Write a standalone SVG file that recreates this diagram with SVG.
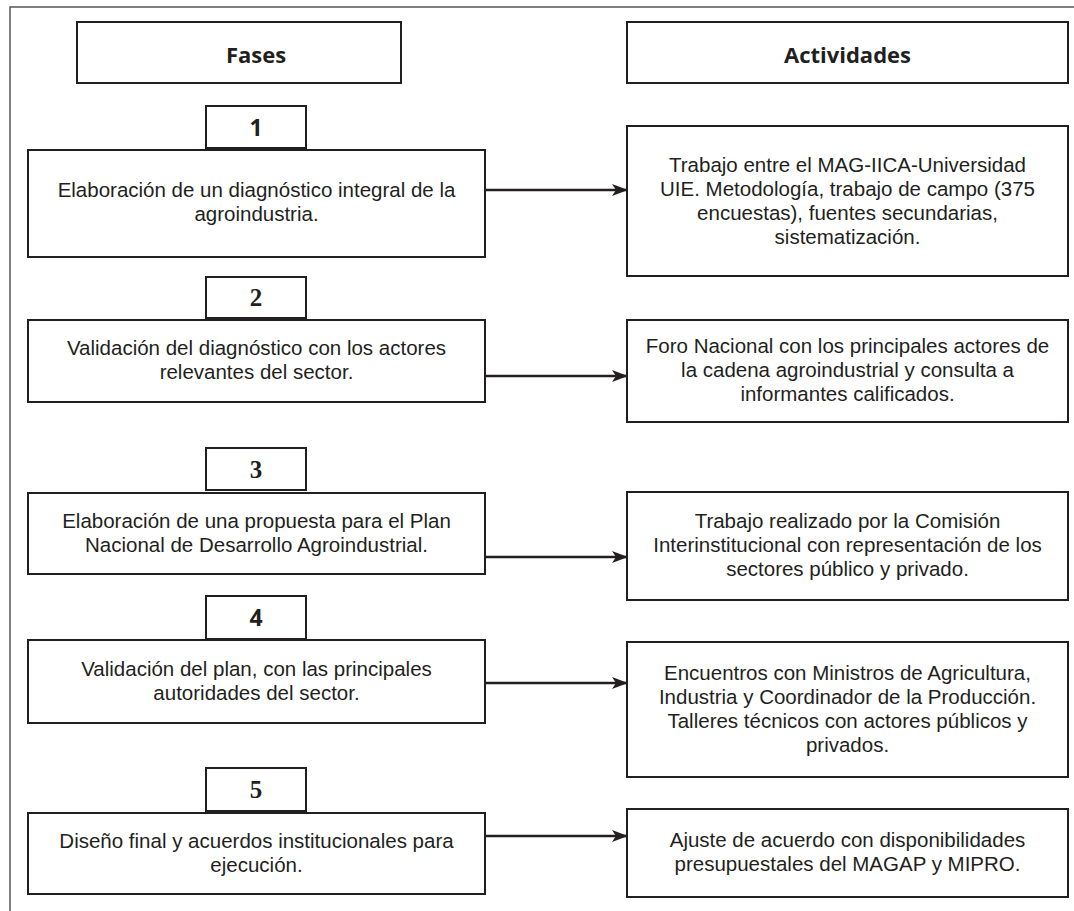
<svg xmlns="http://www.w3.org/2000/svg" width="1074" height="911" viewBox="0 0 1074 911">
<style>
.frame{fill:none;stroke:#555;stroke-width:1.5}
.box{fill:#fff;stroke:#231f20;stroke-width:2}
.t{font-family:"Liberation Sans",Arial,sans-serif;font-size:20.5px;fill:#231f20;text-anchor:middle}
.h{font-family:"Open Sans","Noto Sans",sans-serif;font-size:22px;font-weight:bold;fill:#231f20;text-anchor:middle}
.ns{font-family:"Open Sans","Noto Sans",sans-serif;font-size:23px;font-weight:bold;fill:#231f20;text-anchor:middle}
.nr{font-family:"Liberation Serif",serif;font-size:25px;font-weight:bold;fill:#231f20;text-anchor:middle}
.conn{stroke:#231f20;stroke-width:2.5;fill:none}
</style>
<defs>
<marker id="arr" markerWidth="16" markerHeight="12" refX="15" refY="6" orient="auto" markerUnits="userSpaceOnUse">
<path d="M0,0 L16,6 L0,12 L4,6 Z" fill="#231f20"/>
</marker>
</defs>
<rect width="1074" height="911" fill="#fff"/>
<path class="frame" d="M10,911 V7 H1074"/>

<g id="hdr-fases"><rect class="box" x="77" y="22" width="324" height="61"/><text class="h" x="256" y="63">Fases</text></g>
<g id="hdr-actividades"><rect class="box" x="627" y="22" width="441" height="61"/><text class="h" x="847.5" y="63">Actividades</text></g>

<g id="num1"><rect class="box" x="206" y="106" width="100" height="42"/><text class="ns" x="256" y="136">1</text></g>
<g id="fase1"><rect class="box" x="28" y="150" width="457" height="107"/>
<text class="t" x="256.5" y="197">Elaboración de un diagnóstico integral de la</text>
<text class="t" x="256.5" y="221">agroindustria.</text></g>
<g id="act1"><rect class="box" x="627" y="126" width="441" height="150"/>
<text class="t" x="847.5" y="172">Trabajo entre el MAG-IICA-Universidad</text>
<text class="t" x="847.5" y="196">UIE. Metodología, trabajo de campo (375</text>
<text class="t" x="847.5" y="220">encuestas), fuentes secundarias,</text>
<text class="t" x="847.5" y="244">sistematización.</text></g>

<g id="num2"><rect class="box" x="206" y="277" width="100" height="41"/><text class="nr" x="256" y="306">2</text></g>
<g id="fase2"><rect class="box" x="28" y="320" width="457" height="82"/>
<text class="t" x="256.5" y="355">Validación del diagnóstico con los actores</text>
<text class="t" x="256.5" y="379">relevantes del sector.</text></g>
<g id="act2"><rect class="box" x="627" y="320" width="441" height="102"/>
<text class="t" x="847.5" y="353">Foro Nacional con los principales actores de</text>
<text class="t" x="847.5" y="377">la cadena agroindustrial y consulta a</text>
<text class="t" x="847.5" y="401">informantes calificados.</text></g>

<g id="num3"><rect class="box" x="206" y="448" width="100" height="42"/><text class="nr" x="256" y="478">3</text></g>
<g id="fase3"><rect class="box" x="28" y="493" width="457" height="81"/>
<text class="t" x="256.5" y="528">Elaboración de una propuesta para el Plan</text>
<text class="t" x="256.5" y="552">Nacional de Desarrollo Agroindustrial.</text></g>
<g id="act3"><rect class="box" x="627" y="492" width="441" height="108"/>
<text class="t" x="847.5" y="528">Trabajo realizado por la Comisión</text>
<text class="t" x="847.5" y="552">Interinstitucional con representación de los</text>
<text class="t" x="847.5" y="576">sectores público y privado.</text></g>

<g id="num4"><rect class="box" x="206" y="596" width="100" height="43"/><text class="ns" x="256" y="626">4</text></g>
<g id="fase4"><rect class="box" x="28" y="640" width="457" height="83"/>
<text class="t" x="256.5" y="676">Validación del plan, con las principales</text>
<text class="t" x="256.5" y="700">autoridades del sector.</text></g>
<g id="act4"><rect class="box" x="627" y="642" width="441" height="135"/>
<text class="t" x="847.5" y="680">Encuentros con Ministros de Agricultura,</text>
<text class="t" x="847.5" y="704">Industria y Coordinador de la Producción.</text>
<text class="t" x="847.5" y="728">Talleres técnicos con actores públicos y</text>
<text class="t" x="847.5" y="752">privados.</text></g>

<g id="num5"><rect class="box" x="206" y="768" width="100" height="43"/><text class="nr" x="256" y="798">5</text></g>
<g id="fase5"><rect class="box" x="28" y="813" width="457" height="81"/>
<text class="t" x="256.5" y="848">Diseño final y acuerdos institucionales para</text>
<text class="t" x="256.5" y="872">ejecución.</text></g>
<g id="act5"><rect class="box" x="627" y="809" width="441" height="88"/>
<text class="t" x="847.5" y="847">Ajuste de acuerdo con disponibilidades</text>
<text class="t" x="847.5" y="871">presupuestales del MAGAP y MIPRO.</text></g>

<g id="connectors">
<line class="conn" x1="486" y1="190" x2="627" y2="190" marker-end="url(#arr)"/>
<line class="conn" x1="486" y1="376" x2="627" y2="376" marker-end="url(#arr)"/>
<line class="conn" x1="486" y1="557" x2="627" y2="557" marker-end="url(#arr)"/>
<line class="conn" x1="486" y1="683" x2="627" y2="683" marker-end="url(#arr)"/>
<line class="conn" x1="486" y1="836" x2="627" y2="836" marker-end="url(#arr)"/>
</g>
</svg>
